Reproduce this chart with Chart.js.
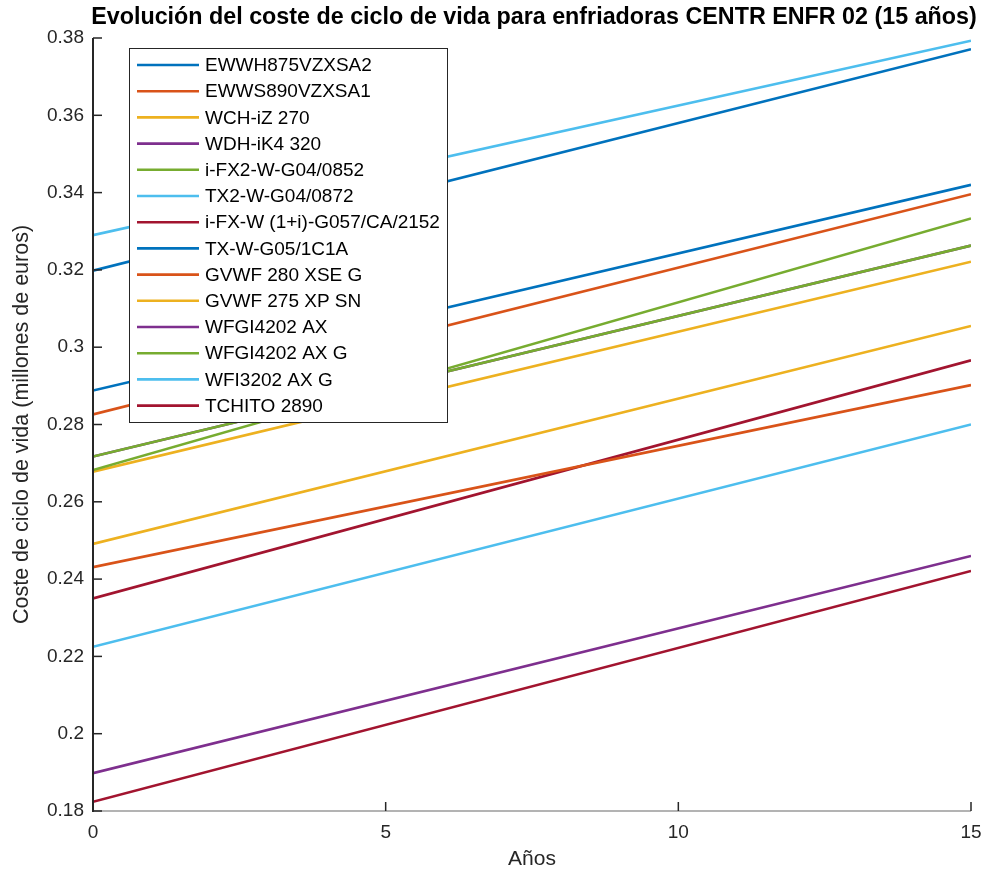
<!DOCTYPE html>
<html>
<head>
<meta charset="utf-8">
<title>Coste de ciclo de vida</title>
<script src="https://cdn.jsdelivr.net/npm/chart.js@4.4.1/dist/chart.umd.min.js"></script>
<style>
  html, body { margin: 0; padding: 0; background: #fff; }
  canvas { display: block; }
</style>
</head>
<body>
<canvas id="lccChart" width="984" height="873"></canvas>
<script>
// Coste de ciclo de vida (millones de euros) al inicio y al final del periodo
const years = [0, 15];
const seriesNames = [
    'EWWH875VZXSA2', 'EWWS890VZXSA1', 'WCH-iZ 270', 'WDH-iK4 320',
    'i-FX2-W-G04/0852', 'TX2-W-G04/0872', 'i-FX-W (1+i)-G057/CA/2152',
    'TX-W-G05/1C1A', 'GVWF 280 XSE G', 'GVWF 275 XP SN', 'WFGI4202 AX',
    'WFGI4202 AX G', 'WFI3202 AX G', 'TCHITO 2890'
];
const startCost = [0.3198, 0.2826, 0.2678, 0.2717, 0.2682, 0.3290, 0.2350,
                   0.2888, 0.2431, 0.2491, 0.1898, 0.2717, 0.2225, 0.1824];
const endCost   = [0.3771, 0.3396, 0.3221, 0.3263, 0.3333, 0.3793, 0.2966,
                   0.3420, 0.2902, 0.3055, 0.2460, 0.3263, 0.2800, 0.2421];
const xTicks = [0, 5, 10, 15];
const yTicks = [0.18, 0.2, 0.22, 0.24, 0.26, 0.28, 0.3, 0.32, 0.34, 0.36, 0.38];

// paleta por defecto (se repite a partir de la serie 8)
const palette = ['#0072BD', '#D95319', '#EDB120', '#7E2F8E', '#77AC30', '#4DBEEE', '#A2142F'];

const axisColor = '#262626';
const FONT = "'Liberation Sans', Arial, Helvetica, sans-serif";
Chart.defaults.font.family = FONT;
Chart.defaults.color = axisColor;

const datasets = seriesNames.map((name, i) => ({
    label: name,
    data: years.map((x, j) => ({ x: x, y: j === 0 ? startCost[i] : endCost[i] })),
    borderColor: palette[i % palette.length],
    borderWidth: 2.6,
    pointRadius: 0,
    fill: false,
    tension: 0,
    // las últimas series se pintan encima
    order: seriesNames.length - i
}));

// Ejes con marcas hacia dentro, título y leyenda interior
const decorPlugin = {
    id: 'decor',
    afterDatasetsDraw(chart) {
        const ctx = chart.ctx;
        const lx = 129.5, ly = 48.5, lw = 318, lh = 374;
        ctx.save();
        ctx.fillStyle = '#fff';
        ctx.fillRect(lx, ly, lw, lh);
        ctx.strokeStyle = axisColor;
        ctx.lineWidth = 1;
        ctx.strokeRect(lx, ly, lw, lh);
        ctx.font = '19px ' + FONT;
        ctx.textBaseline = 'middle';
        ctx.textAlign = 'left';
        chart.data.datasets.forEach((ds, i) => {
            const y = 65 + i * 26.2;
            ctx.strokeStyle = ds.borderColor;
            ctx.lineWidth = 2.6;
            ctx.beginPath();
            ctx.moveTo(137, y);
            ctx.lineTo(199, y);
            ctx.stroke();
            ctx.fillStyle = '#000';
            ctx.fillText(ds.label, 205, y + 1);
        });
        ctx.restore();
    },
    afterDraw(chart) {
        const ctx = chart.ctx;
        const a = chart.chartArea;
        const xs = chart.scales.x, ys = chart.scales.y;
        ctx.save();
        // eje inferior
        ctx.strokeStyle = '#9a9a9a';
        ctx.lineWidth = 1.5;
        ctx.beginPath();
        ctx.moveTo(a.left, a.bottom);
        ctx.lineTo(a.right, a.bottom);
        ctx.stroke();
        // eje izquierdo
        ctx.strokeStyle = axisColor;
        ctx.lineWidth = 2;
        ctx.beginPath();
        ctx.moveTo(a.left, a.top);
        ctx.lineTo(a.left, a.bottom + 1);
        ctx.stroke();
        ctx.lineWidth = 1.5;
        yTicks.forEach(v => {
            const p = ys.getPixelForValue(v);
            ctx.beginPath();
            ctx.moveTo(a.left, p);
            ctx.lineTo(a.left + 9, p);
            ctx.stroke();
        });
        xTicks.forEach(v => {
            const p = xs.getPixelForValue(v);
            ctx.beginPath();
            ctx.moveTo(p, a.bottom);
            ctx.lineTo(p, a.bottom - 9);
            ctx.stroke();
        });
        // título
        ctx.fillStyle = '#000';
        ctx.font = 'bold 23.3px ' + FONT;
        ctx.textAlign = 'center';
        ctx.textBaseline = 'middle';
        ctx.fillText('Evolución del coste de ciclo de vida para enfriadoras CENTR ENFR 02 (15 años)',
            (a.left + a.right) / 2 + 2, 18);
        ctx.restore();
    }
};

new Chart(document.getElementById('lccChart'), {
    type: 'line',
    data: { datasets: datasets },
    options: {
        responsive: false,
        animation: false,
        devicePixelRatio: 1,
        layout: { padding: { top: 38, right: 13, left: 0, bottom: 0 } },
        plugins: {
            legend: { display: false },
            title: { display: false },
            tooltip: { enabled: false }
        },
        scales: {
            x: {
                type: 'linear',
                min: 0,
                max: 15,
                afterBuildTicks: s => { s.ticks = xTicks.map(v => ({ value: v })); },
                afterFit: s => { s.height = 62; s.paddingLeft = 0; s.paddingRight = 0; },
                grid: { display: false, drawTicks: false },
                border: { display: false },
                ticks: { padding: 10, color: axisColor, font: { size: 19 } },
                title: { display: true, text: 'Años', color: axisColor, font: { size: 21 }, padding: { top: 0, bottom: 1 } }
            },
            y: {
                type: 'linear',
                min: 0.18,
                max: 0.38,
                afterBuildTicks: s => { s.ticks = yTicks.map(v => ({ value: v })); },
                afterFit: s => { s.width = 93; s.paddingTop = 0; s.paddingBottom = 0; },
                grid: { display: false, drawTicks: false },
                border: { display: false },
                ticks: {
                    padding: 9,
                    color: axisColor,
                    font: { size: 19 },
                    callback: v => String(Number(v.toFixed(2)))
                },
                title: { display: true, text: 'Coste de ciclo de vida (millones de euros)', color: axisColor, font: { size: 21.5 }, padding: { top: 9, bottom: 0 } }
            }
        }
    },
    plugins: [decorPlugin]
});
</script>
</body>
</html>
